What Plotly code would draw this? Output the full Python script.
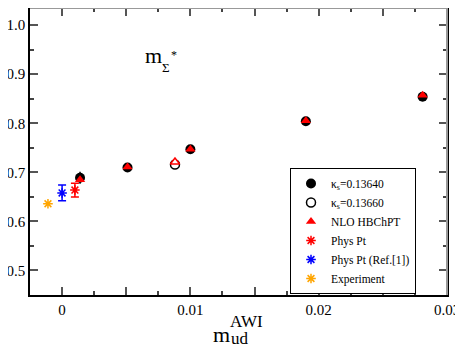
import plotly.graph_objects as go

# kappa_s = 0.13640 (filled circles) and NLO fit (filled triangles)
m_ud_a = [0.0014, 0.0051, 0.0100, 0.0190, 0.0281]
m_sig_a = [0.689, 0.710, 0.747, 0.804, 0.854]
err_a = [0.012, 0.004, 0.004, 0.004, 0.004]
nlo_a = [0.685, 0.711, 0.747, 0.805, 0.857]

# kappa_s = 0.13660 (open circle) and NLO fit (open triangle)
m_ud_b = [0.0088]
m_sig_b = [0.716]
nlo_b = [0.721]

# physical point values
phys_x = [0.0010]
phys_y = [0.664]
phys_err = [0.014]
ref1_x = [0.0]
ref1_y = [0.658]
ref1_err = [0.016]
exp_x = [-0.0011]
exp_y = [0.636]

xtick_vals = [0, 0.005, 0.01, 0.015, 0.02, 0.025, 0.03]
xtick_text = ['0', '', '0.01', '', '0.02', '', '0.03']
ytick_vals = [0.5, 0.6, 0.7, 0.8, 0.9, 1.0]
ytick_text = ['0.5', '0.6', '0.7', '0.8', '0.9', '1.0']

FONT = 'Liberation Serif'

# the page body adds an 8px offset, so the figure is 8px smaller than the window
OFF = 8
W, H = 463 - OFF, 347 - OFF
# plot area in window pixels
L, R, T, B = 30, 447, OFF, 295


def px(x):
    return (x - L) / (R - L)


def py(y):
    return (B - y) / (B - T)


def star(color):
    return dict(symbol='asterisk-open', size=8, color=color,
                line=dict(color=color, width=1.5))


fig = go.Figure()

fig.add_trace(go.Scatter(
    x=m_ud_a, y=m_sig_a, mode='markers', name='κ<sub>s</sub>=0.13640',
    marker=dict(symbol='circle', size=10, color='black'),
    error_y=dict(type='data', array=err_a, color='black', thickness=1.5, width=0)))
fig.add_trace(go.Scatter(
    x=m_ud_b, y=m_sig_b, mode='markers', name='κ<sub>s</sub>=0.13660',
    marker=dict(symbol='circle', size=9, color='white',
                line=dict(color='black', width=1.5))))
fig.add_trace(go.Scatter(
    x=m_ud_a, y=nlo_a, mode='markers', name='NLO HBChPT',
    marker=dict(symbol='triangle-up', size=9, color='red')))
fig.add_trace(go.Scatter(
    x=m_ud_b, y=nlo_b, mode='markers', showlegend=False,
    marker=dict(symbol='triangle-up', size=8, color='white',
                line=dict(color='red', width=1.5))))
fig.add_trace(go.Scatter(
    x=phys_x, y=phys_y, mode='markers', name='Phys Pt', marker=star('red'),
    error_y=dict(type='data', array=phys_err, color='red', thickness=1.5, width=4)))
fig.add_trace(go.Scatter(
    x=ref1_x, y=ref1_y, mode='markers', name='Phys Pt (Ref.[1])', marker=star('blue'),
    error_y=dict(type='data', array=ref1_err, color='blue', thickness=1.5, width=4)))
fig.add_trace(go.Scatter(
    x=exp_x, y=exp_y, mode='markers', name='Experiment', marker=star('orange')))

axis_common = dict(ticks='inside', ticklen=8, tickcolor='#555', tickwidth=1.5,
                   showline=True, linecolor='black', linewidth=1.5, mirror='ticks',
                   showgrid=False, zeroline=False, automargin=False,
                   tickfont=dict(family=FONT, size=15, color='black'))

fig.update_layout(
    width=W, height=H,
    margin=dict(l=L - OFF, r=W - (R - OFF), t=T - OFF, b=H - (B - OFF),
                autoexpand=False),
    plot_bgcolor='white', paper_bgcolor='white',
    font=dict(family=FONT, color='black', size=16),
    xaxis=dict(range=[-0.0025, 0.03], tickvals=xtick_vals, ticktext=xtick_text,
               minor=dict(dtick=0.0025, ticks='inside', ticklen=4, tickcolor='#444'),
               **axis_common),
    yaxis=dict(range=[0.45, 1.035], tickvals=ytick_vals, ticktext=ytick_text,
               minor=dict(dtick=0.05, ticks='inside', ticklen=4, tickcolor='#444'),
               **axis_common),
    legend=dict(x=px(290), y=py(168), xanchor='left', yanchor='top',
                bgcolor='white', bordercolor='black', borderwidth=1,
                itemwidth=30, font=dict(family=FONT, size=11.5, color='black')),
)

# gray top and right frame lines
fig.add_shape(type='line', xref='paper', yref='paper', x0=0, x1=1, y0=1, y1=1,
              line=dict(color='#999', width=2), layer='above')
fig.add_shape(type='line', xref='paper', yref='paper', x0=1, x1=1, y0=0, y1=1,
              line=dict(color='#999', width=2), layer='above')

# m_Sigma* label inside the plot
fig.add_annotation(x=0.0063, y=0.921, xref='x', yref='y', text='m',
                   showarrow=False, xanchor='left', yanchor='bottom',
                   yshift=-6, font=dict(size=22))
fig.add_annotation(x=0.0063, y=0.921, xref='x', yref='y', text='Σ',
                   showarrow=False, xanchor='left', yanchor='bottom',
                   xshift=17, yshift=-13, font=dict(size=13))
fig.add_annotation(x=0.0063, y=0.921, xref='x', yref='y', text='*',
                   showarrow=False, xanchor='left', yanchor='bottom',
                   xshift=26, yshift=0, font=dict(size=12))

# x axis title: m_ud^AWI
fig.add_annotation(x=px(211), y=py(343), xref='paper', yref='paper', text='m',
                   showarrow=False, xanchor='left', yanchor='bottom',
                   yshift=-6, font=dict(size=22))
fig.add_annotation(x=px(229), y=py(346), xref='paper', yref='paper', text='ud',
                   showarrow=False, xanchor='left', yanchor='bottom',
                   yshift=-4, font=dict(size=17))
fig.add_annotation(x=px(228), y=py(328), xref='paper', yref='paper', text='AWI',
                   showarrow=False, xanchor='left', yanchor='bottom',
                   yshift=-5, font=dict(size=17))

fig.write_html("out.html")
